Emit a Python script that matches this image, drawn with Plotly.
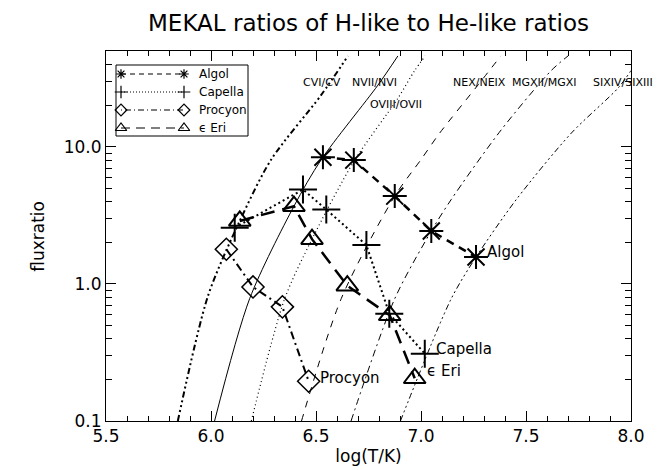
import numpy as np
import plotly.graph_objects as go

# ---- MEKAL theoretical ratio curves (log T, flux ratio) ----
cvi_x = [5.842, 5.986, 6.137, 6.286, 6.524, 6.652]
cvi_y = [0.1, 0.82, 2.88, 8.05, 23.8, 46]
nvii_x = [6.017, 6.184, 6.395, 6.525, 6.795, 6.89]
nvii_y = [0.1, 0.78, 3.69, 8.07, 28.2, 46]
oviii_x = [6.192, 6.351, 6.481, 6.68, 6.89, 6.97, 7.02]
oviii_y = [0.1, 0.78, 2.12, 7.8, 22.6, 36, 46]
nex_x = [6.431, 6.62, 6.875, 7.0, 7.089, 7.271, 7.38]
nex_y = [0.1, 0.78, 4.37, 8.07, 12.6, 28.2, 46]
mgxii_x = [6.667, 6.875, 7.049, 7.144, 7.382, 7.62, 7.7]
mgxii_y = [0.1, 0.78, 2.43, 4.13, 13.3, 36, 46]
sixiv_x = [6.902, 7.144, 7.262, 7.454, 7.716, 7.94, 8.0]
sixiv_y = [0.1, 0.78, 1.57, 4.13, 12.6, 27, 36]

curve_labels = ["CVI/CV", "NVII/NVI", "OVIII/OVII", "NEX/NEIX", "MGXII/MGXI", "SIXIV/SIXIII"]
curve_label_x = [6.53, 6.78, 6.88, 7.28, 7.59, 7.96]
curve_label_y = [29.5, 29.5, 20.5, 29.5, 29.5, 29.5]

# ---- stars ----
algol_x = [6.533, 6.68, 6.875, 7.049, 7.262]
algol_y = [8.4, 8.0, 4.37, 2.43, 1.57]
capella_x = [6.113, 6.438, 6.549, 6.74, 6.849, 7.018]
capella_y = [2.57, 4.88, 3.49, 1.92, 0.606, 0.31]
procyon_x = [6.073, 6.2, 6.34, 6.465]
procyon_y = [1.79, 0.95, 0.68, 0.195]
eeri_x = [6.137, 6.395, 6.481, 6.649, 6.851, 6.97]
eeri_y = [2.88, 3.69, 2.12, 0.97, 0.59, 0.205]

x_tickvals = [5.5, 6.0, 6.5, 7.0, 7.5, 8.0]
x_ticktext = ["5.5", "6.0", "6.5", "7.0", "7.5", "8.0"]
y_tickvals = [0.1, 1, 10]
y_ticktext = ["0.1", "1.0", "10.0"]
y_minor_tickvals = [0.2, 0.3, 0.4, 0.5, 0.6, 0.7, 0.8, 0.9, 2, 3, 4, 5, 6, 7, 8, 9, 20, 30, 40]

FONT = "DejaVu Sans"
fig = go.Figure()

curve_styles = [
    (cvi_x, cvi_y, "6px,3px,2px,3px,2px,3px,2px,3px", 2.0),
    (nvii_x, nvii_y, "solid", 1.0),
    (oviii_x, oviii_y, "1px,3px", 1.2),
    (nex_x, nex_y, "7px,7px", 1.0),
    (mgxii_x, mgxii_y, "7px,4px,2px,4px", 1.0),
    (sixiv_x, sixiv_y, "6px,3px,2px,3px,2px,3px,2px,3px", 1.0),
]
for cx, cy, dash, w in curve_styles:
    fig.add_trace(go.Scatter(x=cx, y=cy, mode="lines",
                             line=dict(color="black", width=w, dash=dash, shape="spline", smoothing=0.8),
                             showlegend=False, hoverinfo="skip"))

series = [
    ("Algol", algol_x, algol_y, "8px,6px", 2.5, "asterisk-open", 20, 2.0, "5px,4px", 8),
    ("Capella", capella_x, capella_y, "2px,3px", 2.0, "cross-thin-open", 20, 2.0, "1px,2px", 9),
    ("Procyon", procyon_x, procyon_y, "8px,4px,2px,4px", 2.0, "diamond-open", 17, 1.5, "1px,3px,6px,3px", 9),
    ("ϵ Eri", eeri_x, eeri_y, "14px,8px", 2.5, "triangle-up-open", 19, 2.0, "9px,6px", 10),
]
for name, sx, sy, dash, lw, sym, ms, mlw, _, _ in series:
    fig.add_trace(go.Scatter(x=sx, y=sy, mode="lines+markers", name=name,
                             line=dict(color="black", width=lw, dash=dash),
                             marker=dict(symbol=sym, size=ms, color="black", line=dict(color="black", width=mlw)),
                             showlegend=False))

# ---- hand-made IDL style legend (pixel overlay axes) ----
LEG_X0, LEG_X1, LEG_Y0, LEG_Y1 = 108, 240, 57, 128
LEG_ROW0, LEG_DY = 66, 18
LEG_S0, LEG_S1, LEG_TX = 113, 176, 189
for i, (name, sx, sy, dash, lw, sym, ms, mlw, ldash, lms) in enumerate(series):
    ry = LEG_ROW0 + i * LEG_DY
    fig.add_trace(go.Scatter(x=[LEG_S0, LEG_S1], y=[ry, ry], xaxis="x2", yaxis="y2", mode="lines+markers",
                             line=dict(color="black", width=1.2, dash=ldash),
                             marker=dict(symbol=sym, size=lms, color="black", line=dict(color="black", width=1.2)),
                             showlegend=False, hoverinfo="skip"))

annotations = []
for i, s in enumerate(series):
    annotations.append(dict(x=LEG_TX, y=LEG_ROW0 + i * LEG_DY, xref="x2", yref="y2", text=s[0], showarrow=False,
                            xanchor="left", yanchor="middle", font=dict(family=FONT, size=12, color="black")))

for lab, lx, ly in zip(curve_labels, curve_label_x, curve_label_y):
    annotations.append(dict(x=lx, y=np.log10(ly), xref="x", yref="y", text=lab, showarrow=False,
                            font=dict(family=FONT, size=11, color="black"), xanchor="center", yanchor="middle"))

for name, sx, sy, xs, ys in [("Algol", algol_x, algol_y, 9, 5), ("Capella", capella_x, capella_y, 9, 5),
                              ("Procyon", procyon_x, procyon_y, 9, 3), ("ϵ Eri", eeri_x, eeri_y, 10, 7)]:
    annotations.append(dict(x=sx[-1], y=np.log10(sy[-1]), xref="x", yref="y", text=name, showarrow=False,
                            xanchor="left", yanchor="middle", xshift=xs, yshift=ys,
                            font=dict(family=FONT, size=15, color="black")))

annotations.append(dict(x=-0.13, y=0.5, xref="paper", yref="paper", text="fluxratio", textangle=-90,
                        xanchor="center", yanchor="middle",
                        showarrow=False, font=dict(family=FONT, size=17, color="black")))

fig.update_layout(
    template="none",
    width=665, height=470,
    margin=dict(l=98, r=42, t=43, b=57),
    paper_bgcolor="white", plot_bgcolor="white",
    title=dict(text="MEKAL ratios of H-like to He-like ratios", x=0.5, xref="paper", y=1 - 15 / 470, yref="container",
               xanchor="center", yanchor="middle", font=dict(family=FONT, size=23, color="black")),
    font=dict(family=FONT, color="black"),
    showlegend=False,
    annotations=annotations,
    shapes=[dict(type="rect", xref="x2", yref="y2", x0=LEG_X0, x1=LEG_X1, y0=LEG_Y0, y1=LEG_Y1,
                 line=dict(color="black", width=1), fillcolor="rgba(0,0,0,0)", layer="above")],
    xaxis=dict(range=[5.5, 8.0], tickmode="array", tickvals=x_tickvals, ticktext=x_ticktext,
               ticks="inside", ticklen=10, tickcolor="black", tickwidth=1.2,
               showline=True, linecolor="black", linewidth=1, mirror="allticks",
               showgrid=False, zeroline=False,
               tickfont=dict(family=FONT, size=17, color="black"),
               minor=dict(dtick=0.1, tick0=5.5, ticks="inside", ticklen=5, tickcolor="black", tickwidth=1.2, showgrid=False),
               title=dict(text="log(T/K)", font=dict(family=FONT, size=17, color="black"), standoff=4)),
    yaxis=dict(type="log", range=[-1, np.log10(50)], tickmode="array", tickvals=y_tickvals, ticktext=y_ticktext,
               ticks="inside", ticklen=10, tickcolor="black", tickwidth=1.2,
               showline=True, linecolor="black", linewidth=1, mirror="allticks",
               showgrid=False, zeroline=False,
               tickfont=dict(family=FONT, size=17, color="black"),
               minor=dict(tickmode="array", tickvals=y_minor_tickvals, ticks="inside", ticklen=6,
                          tickcolor="black", tickwidth=1.2, showgrid=False)),
    xaxis2=dict(overlaying="x", range=[98, 623], visible=False, fixedrange=True),
    yaxis2=dict(overlaying="y", range=[413, 43], visible=False, fixedrange=True),
)

fig.write_html("out.html")
